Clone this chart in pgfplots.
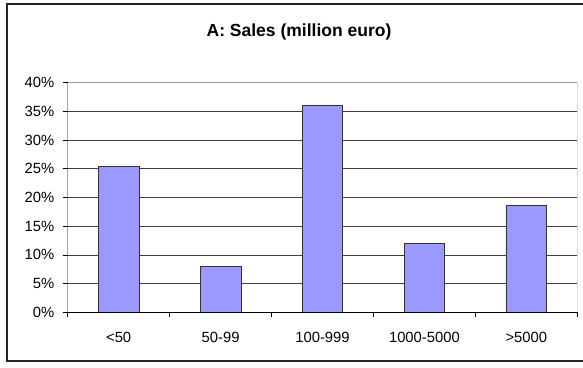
\documentclass[border=0pt]{standalone}
\usepackage{fontspec}
\setmainfont{Liberation Sans}
\usepackage{pgfplots}
\pgfplotsset{compat=1.18}
\definecolor{barblue}{HTML}{9999FF}
\begin{document}
\begin{tikzpicture}[x=1pt,y=1pt]
\useasboundingbox (0,0) rectangle (583,367);
\fill[white] (0,0) rectangle (583,367);
\draw[line width=1.2pt, black!85] (7,6) rectangle (600,363);
\node[font=\fontsize{17.5}{20}\selectfont\bfseries] at (299,335) {A: Sales (million euro)};
\begin{axis}[
  at={(67.7pt,54.7pt)}, anchor=south west,
  scale only axis, width=509.6pt, height=229.6pt,
  xmin=0.5, xmax=5.5, ymin=0, ymax=40,
  ybar, bar width=0.4,
  xtick={1,2,3,4,5},
  xticklabels={<50,50-99,100-999,1000-5000,>5000},
  every major x tick/.append style={draw=none},
  minor xtick={0.5,1.5,2.5,3.5,4.5,5.5},
  ytick={0,5,10,15,20,25,30,35,40},
  yticklabels={0\%,5\%,10\%,15\%,20\%,25\%,30\%,35\%,40\%},
  tick align=outside, major tick length=5pt, minor tick length=5pt,
  tick style={black, line width=0.8pt},
  xtick pos=bottom, ytick pos=left,
  ymajorgrids, major grid style={black!75, line width=0.8pt},
  axis line style={draw=none},
  tick label style={font=\fontsize{14.8}{17}\selectfont},
  xticklabel style={yshift=-11pt},
  yticklabel style={xshift=-5pt},
]
\addplot[ybar, bar width=0.4, fill=barblue, draw=black!80, line width=0.9pt]
  coordinates {(1,25.4) (2,8.0) (3,36.0) (4,12.0) (5,18.6)};
\draw[gray!80, line width=0.9pt] (rel axis cs:0,1) -- (rel axis cs:1,1) -- (rel axis cs:1,0);
\draw[black, line width=0.9pt] (rel axis cs:0,1) -- (rel axis cs:0,0) -- (rel axis cs:1,0);
\end{axis}
\end{tikzpicture}
\end{document}
